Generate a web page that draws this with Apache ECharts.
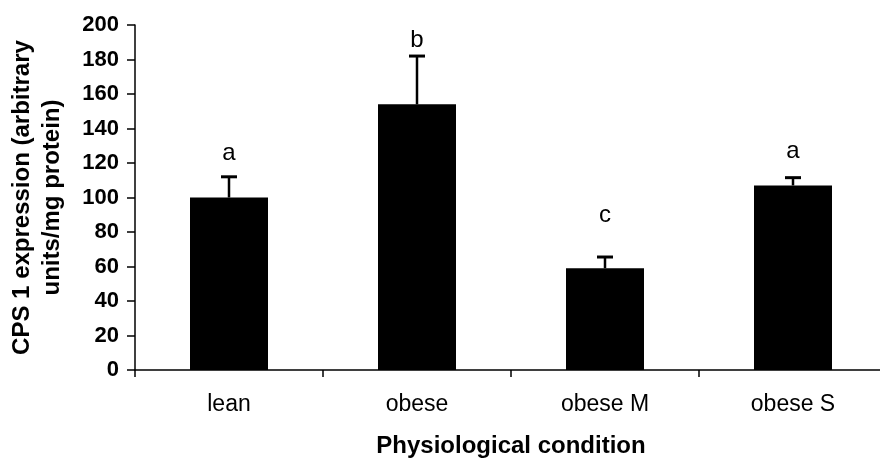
<!DOCTYPE html>
<html><head><meta charset="utf-8">
<script src="https://cdn.jsdelivr.net/npm/echarts@6/dist/echarts.min.js"></script>
<style>html,body{margin:0;padding:0;background:#fff}#c{width:880px;height:459px}</style>
</head><body><div id="c"></div>
<script>
const categories = ['lean', 'obese', 'obese M', 'obese S'];
const means = [100, 154, 59, 107];
const errUpper = [112, 182, 65.5, 111.5];
const letters = ['a', 'b', 'c', 'a'];
const letterY = [125.5, 191, 89.5, 127];
const yTicks = [0, 200, 20];

const font = 'Liberation Sans, Arial, Helvetica, sans-serif';
const chart = echarts.init(document.getElementById('c'));
chart.setOption({
  animation: false,
  backgroundColor: '#fff',
  grid: { left: 135, width: 752, top: 25, bottom: 89, containLabel: false, outerBoundsMode: 'none' },
  xAxis: {
    type: 'category', data: categories, boundaryGap: true,
    axisLine: { lineStyle: { color: '#000', width: 1.5 } },
    axisTick: { show: true, length: 7, lineStyle: { color: '#000', width: 1.5 } },
    axisLabel: { color: '#000', fontFamily: font, fontSize: 23, margin: 23 },
    name: 'Physiological condition', nameLocation: 'middle', nameGap: 64,
    nameTextStyle: { color: '#000', fontFamily: font, fontSize: 24, fontWeight: 'bold' }
  },
  yAxis: {
    type: 'value', min: yTicks[0], max: yTicks[1], interval: yTicks[2],
    splitLine: { show: false },
    axisLine: { show: true, lineStyle: { color: '#000', width: 1.5 } },
    axisTick: { show: true, length: 8, lineStyle: { color: '#000', width: 1.5 } },
    axisLabel: { color: '#000', fontFamily: font, fontSize: 22, fontWeight: 'bold', margin: 16 },
    name: 'CPS 1 expression (arbitrary\nunits/mg protein)', nameLocation: 'middle', nameGap: 68,
    nameRotate: 90,
    nameTextStyle: { color: '#000', fontFamily: font, fontSize: 24, fontWeight: 'bold', lineHeight: 30 }
  },
  series: [
    { type: 'bar', data: means, barWidth: 78, itemStyle: { color: '#000' }, z: 2 },
    {
      type: 'custom', z: 3,
      data: categories.map((c, i) => [i, means[i], errUpper[i], letterY[i]]),
      renderItem: function (params, api) {
        const i = api.value(0);
        const base = api.coord([i, api.value(1)]);
        const top = api.coord([i, api.value(2)]);
        const lt = api.coord([i, api.value(3)]);
        const half = 8;
        return {
          type: 'group', children: [
            { type: 'line', shape: { x1: base[0], y1: base[1], x2: top[0], y2: top[1] }, style: { stroke: '#000', lineWidth: 2.5 } },
            { type: 'line', shape: { x1: top[0] - half, y1: top[1], x2: top[0] + half, y2: top[1] }, style: { stroke: '#000', lineWidth: 3 } },
            { type: 'text', x: lt[0], y: lt[1], style: { text: letters[i], fill: '#000', font: '24px ' + font, align: 'center', verticalAlign: 'middle' } }
          ]
        };
      }
    }
  ]
});
</script></body></html>
